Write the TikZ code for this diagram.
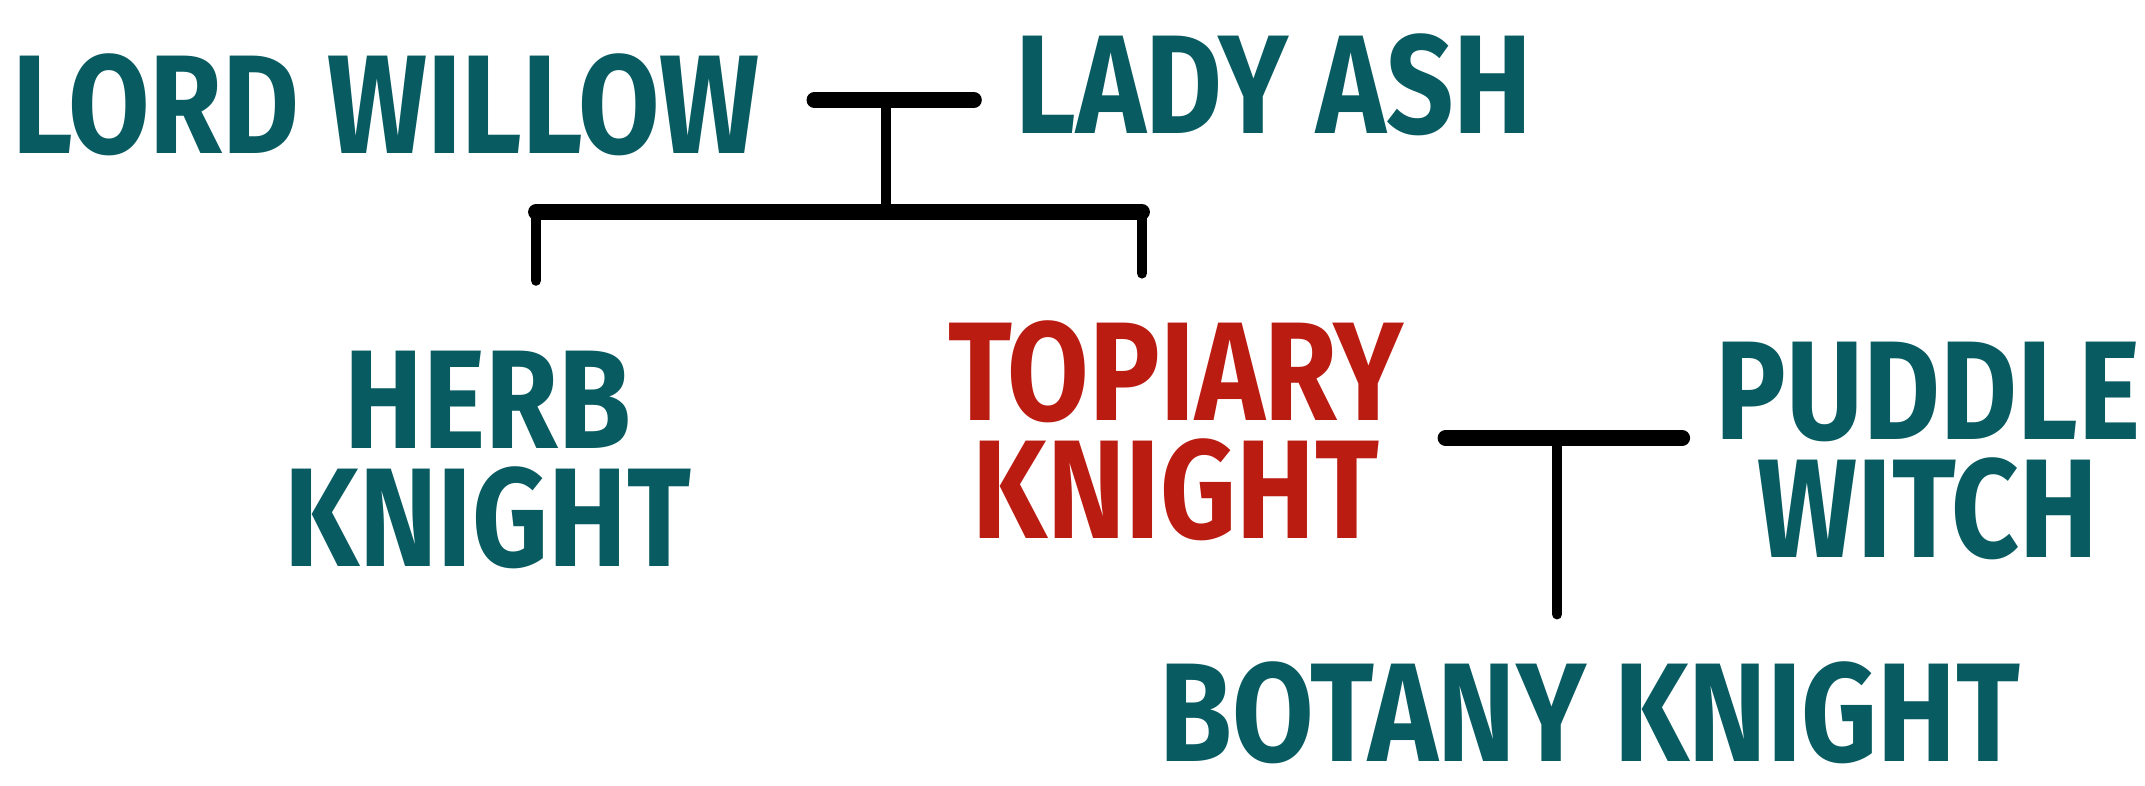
\documentclass[tikz,border=0pt]{standalone}
\usepackage{fontspec}
\usepackage{tikz}
\usetikzlibrary{positioning}
\newfontfamily\handfont{Fira Sans}[FakeStretch=0.84]
\definecolor{leafteal}{HTML}{075B61}
\definecolor{thornred}{HTML}{BA1C12}

\begin{document}
\begin{tikzpicture}[
  person/.style={font=\handfont\bfseries\fontsize{40}{33.5}\selectfont,
    text=leafteal, inner sep=0pt, align=center},
  couple/.style={line width=4.5pt, line cap=round},
  kin/.style={line width=3pt, line cap=round}]
  \useasboundingbox (0,0) rectangle (21.45,7.85);
  % Parents
  \node[person] (lordwillow) at (3.86,6.80) {LORD WILLOW};
  \node[person] (ladyash) at (12.74,7.00) {LADY ASH};
  \coordinate (wed1) at (8.86,6.85);
  \draw[couple,shorten <=0.54cm,shorten >=0.41cm]
    (lordwillow.east |- wed1) -- (ladyash.west |- wed1);
  % Children
  \node[person] (herb) at (4.88,3.25) {HERB\\KNIGHT};
  \node[person,text=thornred] (topiary) at (11.76,3.54) {TOPIARY\\KNIGHT};
  \coordinate (bar) at (8.86,5.73);
  \coordinate (barL) at (5.36,5.73);
  \coordinate (barR) at (11.42,5.73);
  \draw[kin] (wed1) -- (bar);
  \draw[couple] (barL) -- (barR);
  \draw[kin,shorten >=0.70cm] (barL) -- (barL |- herb.north);
  \draw[kin,shorten >=0.47cm] (barR) -- (barR |- topiary.north);
  % Second couple
  \node[person] (puddle) at (19.28,3.34) {PUDDLE\\WITCH};
  \coordinate (wed2) at (15.57,3.47);
  \draw[couple,shorten <=0.41cm,shorten >=0.33cm]
    (topiary.east |- wed2) -- (puddle.west |- wed2);
  \node[person] (botany) at (15.90,0.72) {BOTANY KNIGHT};
  \draw[kin,shorten >=0.47cm] (wed2) -- (wed2 |- botany.north);
\end{tikzpicture}
\end{document}
